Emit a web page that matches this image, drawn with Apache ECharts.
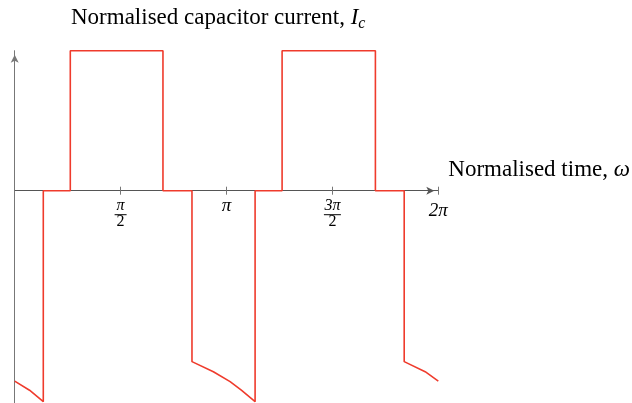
<!DOCTYPE html>
<html>
<head>
<meta charset="utf-8">
<script src="https://cdn.jsdelivr.net/npm/echarts@6/dist/echarts.min.js"></script>
<style>html,body{margin:0;padding:0;background:#fff;}#c{width:632px;height:403px;}</style>
</head>
<body>
<div id="c"></div>
<script>
// time in units of pi
var timePi = [0, 0.07, 0.135, 0.135, 0.2625, 0.2625, 0.700, 0.700, 0.837, 0.837, 0.938, 1.017, 1.07, 1.135,
              1.135, 1.2625, 1.2625, 1.703, 1.703, 1.839, 1.839, 1.938, 2.0];
var current = [-1.36, -1.425, -1.507, 0, 0, 1, 1, 0, 0, -1.221, -1.293, -1.364, -1.425, -1.507,
               0, 0, 1, 1, 0, 0, -1.221, -1.293, -1.36];
var tickValues = [0, 0.5, 1, 1.5, 2];
var tickLabels = ['', '{num|π}\n{bar1|}\n{den|2}', '{one|π}', '{num|3π}\n{bar3|}\n{den|2}', '{end|2π}'];
var yMin = -1.52, yMax = 1;

var serif = '"Liberation Serif", "DejaVu Serif", serif';
var chart = echarts.init(document.getElementById('c'), null, {renderer: 'canvas'});
var data = timePi.map(function (t, i) { return [t, current[i]]; });
var gridTop = 50.7, gridH = 352.8;
var zeroOffset = -gridH * (0 - yMin) / (yMax - yMin);

chart.setOption({
  animation: false,
  title: {
    text: '{r|Normalised capacitor current, }{i|I}{s|c}',
    left: 71, top: 4, padding: 0,
    textStyle: {
      fontWeight: 'normal',
      rich: {
        r: {fontFamily: serif, fontSize: 23, fontWeight: 'normal', color: '#000', lineHeight: 28},
        i: {fontFamily: serif, fontSize: 23, fontWeight: 'normal', fontStyle: 'italic', color: '#000', lineHeight: 28},
        s: {fontFamily: serif, fontSize: 16, fontWeight: 'normal', fontStyle: 'italic', color: '#000', lineHeight: 16, verticalAlign: 'bottom'}
      }
    }
  },
  grid: {left: 14.7, top: gridTop, width: 423.6, height: gridH, containLabel: false, outerBoundsMode: 'none'},
  xAxis: [{
    type: 'value', min: 0, max: 2, interval: 0.5, position: 'bottom', offset: zeroOffset,
    axisLine: {onZero: false, lineStyle: {color: '#555', width: 1},
      symbol: ['none', 'arrow'], symbolSize: [6, 8], symbolOffset: [0, -4]},
    axisTick: {show: true, inside: false, length: 4, lineStyle: {color: '#777'}},
    splitLine: {show: false},
    axisLabel: {
      margin: 7, color: '#000', showMinLabel: true, showMaxLabel: true,
      formatter: function (v) { return tickLabels[tickValues.indexOf(Math.round(v * 2) / 2)] || ''; },
      rich: {
        one: {fontFamily: serif, fontSize: 19, lineHeight: 16, fontStyle: 'italic', color: '#000'},
        end: {fontFamily: serif, fontSize: 19, lineHeight: 16, fontStyle: 'italic', color: '#000', padding: [10, 0, 0, 0]},
        num: {fontFamily: serif, fontSize: 16, lineHeight: 16, fontStyle: 'italic', color: '#000'},
        bar1: {width: 12, height: 1, lineHeight: 2, fontSize: 1, backgroundColor: '#000'},
        bar3: {width: 17, height: 1, lineHeight: 2, fontSize: 1, backgroundColor: '#000'},
        den: {fontFamily: serif, fontSize: 16, lineHeight: 12, color: '#000'}
      }
    },
    name: '{r|Normalised time, }{i|ω}',
    nameLocation: 'end', nameGap: 10,
    nameTextStyle: {
      verticalAlign: 'bottom', padding: [0, 0, 9, 0],
      rich: {
        r: {fontFamily: serif, fontSize: 23, color: '#000'},
        i: {fontFamily: serif, fontSize: 23, fontStyle: 'italic', color: '#000'}
      }
    }
  }, {
    type: 'value', min: 0, max: 2, interval: 0.5, position: 'bottom', offset: zeroOffset,
    axisLine: {show: false, onZero: false},
    axisTick: {show: true, inside: true, length: 4, lineStyle: {color: '#777'}},
    axisLabel: {show: false}, splitLine: {show: false}
  }],
  yAxis: {
    type: 'value', min: yMin, max: yMax,
    axisLine: {show: true, onZero: false, lineStyle: {color: '#777', width: 1},
      symbol: ['none', 'arrow'], symbolSize: [6, 8], symbolOffset: [0, -4]},
    axisTick: {show: false}, axisLabel: {show: false}, splitLine: {show: false}
  },
  series: [{
    type: 'line', data: data, xAxisIndex: 0, yAxisIndex: 0,
    showSymbol: false, clip: false,
    lineStyle: {color: '#ef3b2c', width: 1.6}
  }]
});
</script>
</body>
</html>
